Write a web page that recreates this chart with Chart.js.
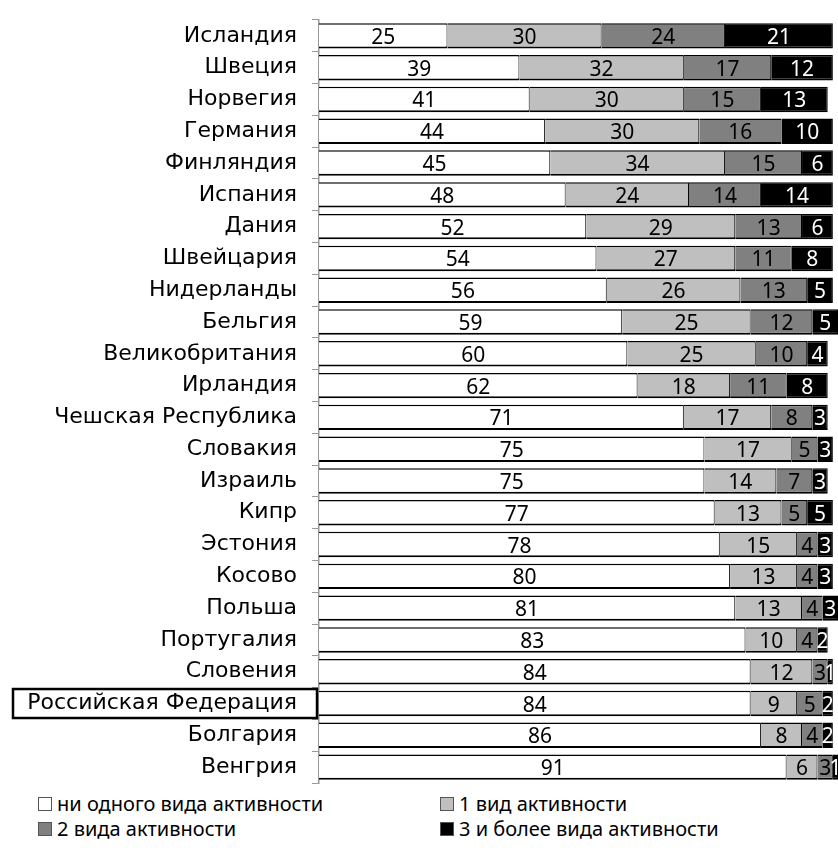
<!DOCTYPE html>
<html>
<head>
<meta charset="utf-8">
<script src="https://cdn.jsdelivr.net/npm/chart.js@4/dist/chart.umd.min.js"></script>
<style>
  body { margin: 0; background: #fff; font-family: "Noto Sans", sans-serif; }
  #wrap { position: relative; width: 838px; height: 866px; }
  #chartBox { position: absolute; left: 0; top: 0; width: 838px; height: 790px; }
  #legend { position: absolute; left: 0; top: 792px; width: 838px; }
  .item { position: absolute; font-size: 20px; color: #000; white-space: nowrap; line-height: 24px; }
  .item span.box { display: inline-block; width: 12px; height: 12px; border: 1px solid #555; margin-right: 5px; vertical-align: 0px; }
</style>
</head>
<body>
<div id="wrap">
  <div id="chartBox"><canvas id="chart" width="838" height="790"></canvas></div>
  <div id="legend"></div>
</div>
<script>
// Categories (top to bottom)
const countries = ['Исландия', 'Швеция', 'Норвегия', 'Германия', 'Финляндия', 'Испания', 'Дания',
  'Швейцария', 'Нидерланды', 'Бельгия', 'Великобритания', 'Ирландия', 'Чешская Республика',
  'Словакия', 'Израиль', 'Кипр', 'Эстония', 'Косово', 'Польша', 'Португалия', 'Словения',
  'Российская Федерация', 'Болгария', 'Венгрия'];

// Series values, %
const noActivity = [25, 39, 41, 44, 45, 48, 52, 54, 56, 59, 60, 62, 71, 75, 75, 77, 78, 80, 81, 83, 84, 84, 86, 91];
const oneActivity = [30, 32, 30, 30, 34, 24, 29, 27, 26, 25, 25, 18, 17, 17, 14, 13, 15, 13, 13, 10, 12, 9, 8, 6];
const twoActivities = [24, 17, 15, 16, 15, 14, 13, 11, 13, 12, 10, 11, 8, 5, 7, 5, 4, 4, 4, 4, 3, 5, 4, 3];
const threePlus = [21, 12, 13, 10, 6, 14, 6, 8, 5, 5, 4, 8, 3, 3, 3, 5, 3, 3, 3, 2, 1, 2, 2, 1];

const seriesNames = ['ни одного вида активности', '1 вид активности', '2 вида активности', '3 и более вида активности'];
const highlighted = 'Российская Федерация';

// draws the numbers inside each segment
const valueLabels = {
  id: 'valueLabels',
  afterDatasetsDraw(chart) {
    const ctx = chart.ctx;
    ctx.save();
    ctx.font = '21px "Liberation Sans Narrow", "Noto Sans"';
    ctx.textAlign = 'center';
    ctx.textBaseline = 'middle';
    chart.data.datasets.forEach((ds, i) => {
      const meta = chart.getDatasetMeta(i);
      meta.data.forEach((bar, j) => {
        const cx = (bar.x + bar.base) / 2;
        ctx.fillStyle = i === 3 ? '#fff' : '#000';
        ctx.fillText(ds.data[j], cx, bar.y + 2);
      });
    });
    ctx.restore();
  }
};

// frame around the Russia label
const highlightBox = {
  id: 'highlightBox',
  afterDraw(chart) {
    const y = chart.scales.y.getPixelForValue(countries.indexOf(highlighted));
    const ctx = chart.ctx;
    ctx.save();
    ctx.strokeStyle = '#000';
    ctx.lineWidth = 2.5;
    ctx.strokeRect(13, y - 14.5, 304, 29);
    ctx.restore();
  }
};

const colors = ['#ffffff', '#bfbfbf', '#808080', '#000000'];

const chart = new Chart(document.getElementById('chart'), {
  type: 'bar',
  data: {
    labels: countries,
    datasets: [noActivity, oneActivity, twoActivities, threePlus].map((d, i) => ({
      label: seriesNames[i],
      data: d,
      backgroundColor: colors[i],
      borderColor: '#000',
      borderWidth: { top: 1.5, bottom: 2, right: 1, left: 0 },
      borderSkipped: false,
      barPercentage: 0.8,
      categoryPercentage: 1
    }))
  },
  options: {
    indexAxis: 'y',
    responsive: false,
    animation: false,
    devicePixelRatio: 1,
    layout: { padding: { top: 20, right: 0, bottom: 7, left: 0 } },
    plugins: {
      legend: { display: false },
      tooltip: { enabled: false }
    },
    scales: {
      x: {
        stacked: true,
        min: 0,
        max: 101,
        display: false
      },
      y: {
        stacked: true,
        afterFit(scale) {
          scale.width = 319;
          scale.paddingTop = 0;
          scale.paddingBottom = 0;
        },
        grid: {
          offset: true,
          drawOnChartArea: false,
          tickLength: 7,
          color: '#999'
        },
        border: { color: '#999', width: 1.5 },
        ticks: {
          color: '#000',
          padding: 15,
          font: { family: 'DejaVu Sans', size: 22 }
        }
      }
    }
  },
  plugins: [valueLabels, highlightBox]
});

// legend in two columns like the original
const legend = document.getElementById('legend');
const pos = [[38, 0], [440, 0], [38, 25], [440, 25]];
seriesNames.forEach((name, i) => {
  const el = document.createElement('div');
  el.className = 'item';
  el.style.left = pos[i][0] + 'px';
  el.style.top = pos[i][1] + 'px';
  el.innerHTML = '<span class="box" style="background:' + colors[i] + '"></span>' + name;
  legend.appendChild(el);
});
</script>
</body>
</html>
